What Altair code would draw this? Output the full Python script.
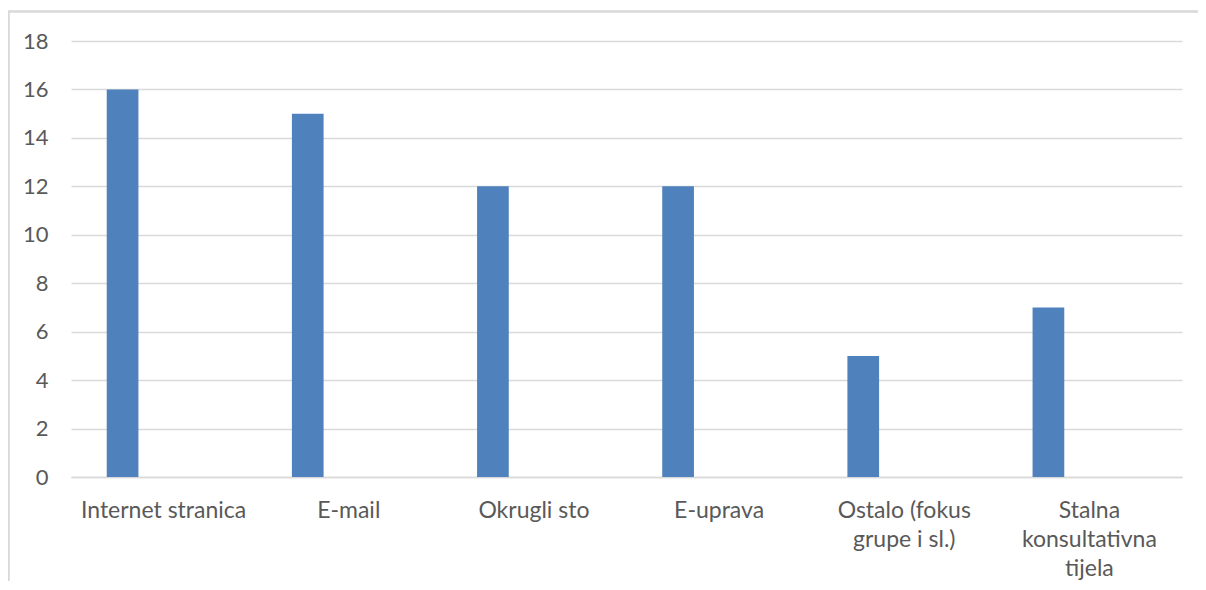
import altair as alt
import pandas as pd

categories = ["Internet stranica", "E-mail", "Okrugli sto", "E-uprava",
              "Ostalo (fokus\ngrupe i sl.)", "Stalna\nkonsultativna\ntijela"]
values = [16, 15, 12, 12, 5, 7]

df = pd.DataFrame({"kategorija": categories, "vrijednost": values})

FONT = "Lato"
LABEL_COLOR = "#595959"
GRID = "#d9d9d9"

bars = alt.Chart(df).mark_bar(color="#4f81bd", width=31.7, xOffset=-41).encode(
    x=alt.X("kategorija:N", sort=categories,
            scale=alt.Scale(paddingInner=0, paddingOuter=0),
            axis=alt.Axis(title=None, labelAngle=0, ticks=False, tickSize=0,
                          domain=True, domainColor=GRID, domainWidth=1.3,
                          labelPadding=22, labelFontSize=23, labelFont=FONT,
                          labelColor=LABEL_COLOR, labelLineHeight=29,
                          labelExpr="split(datum.label, '\\n')")),
    y=alt.Y("vrijednost:Q", scale=alt.Scale(domain=[0, 18], nice=False),
            axis=alt.Axis(title=None, values=list(range(0, 19, 2)), ticks=False, tickSize=0,
                          domain=False, grid=True, gridColor=GRID, gridWidth=1.3,
                          labelPadding=23, labelFontSize=22, labelFont=FONT,
                          labelColor=LABEL_COLOR)),
)

border_top = alt.Chart(df).mark_rule(color=GRID, strokeWidth=1.5).encode(
    x=alt.value(-63), x2=alt.value(1140), y=alt.value(-29.5))
border_left = alt.Chart(df).mark_rule(color=GRID, strokeWidth=1.5).encode(
    x=alt.value(-62.5), y=alt.value(-29.5), y2=alt.value(600))

chart = alt.layer(border_top, border_left, bars).properties(
    width=1111, height=436,
    autosize=alt.AutoSizeParams(type="none"),
    padding={"left": 63, "top": 33, "right": 16, "bottom": 104},
).configure_view(stroke=None)

chart.save("out.html", embed_options={"renderer": "svg", "actions": False})
